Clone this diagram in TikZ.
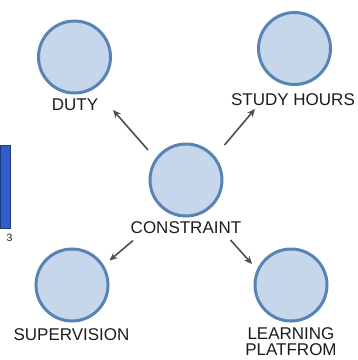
\documentclass[tikz,border=0pt]{standalone}
\usepackage{fontspec}
\setmainfont{Liberation Sans}
\usetikzlibrary{arrows.meta}
\definecolor{bubblefill}{HTML}{C6D6EB}
\definecolor{bubbleline}{HTML}{5783B5}
\definecolor{arrowgray}{HTML}{4A5152}
\definecolor{labelink}{HTML}{1C1C1C}
\definecolor{barblue}{HTML}{2F5DCB}
\definecolor{barline}{HTML}{1E3A7A}
\begin{document}
\begin{tikzpicture}[x=1pt,y=-1pt,
  bubble/.style={circle,draw=bubbleline,fill=bubblefill,line width=3pt,minimum size=72pt,inner sep=0pt},
  caption/.style={text=labelink,font=\fontsize{17}{16}\selectfont,inner sep=0pt,align=center},
  arr/.style={draw=arrowgray,line width=1.6pt,-{Stealth[length=8pt,width=7pt]}}]
  \useasboundingbox (0,0) rectangle (358,360);
  % side bar and its tick label
  \path[fill=barblue,draw=barline,line width=0.8pt] (0,145) rectangle (10.5,228);
  \node[text=labelink,font=\fontsize{10.5}{11}\selectfont,inner sep=0pt] (tick) at (9.5,238) {3};
  % concept bubbles
  \node[bubble] (c) at (186,180) {};
  \node[bubble] (duty) at (74.5,57) {};
  \node[bubble] (study) at (294.5,48.5) {};
  \node[bubble] (sup) at (72,285) {};
  \node[bubble] (learn) at (291,285) {};
  % captions
  \node[caption] (cL) at (186,228) {CONSTRAINT};
  \node[caption] (dutyL) at (75,105) {DUTY};
  \node[caption] (studyL) at (293,99.5) {STUDY HOURS};
  \node[caption] (supL) at (71.5,334.5) {SUPERVISION};
  \node[caption,anchor=north] (learnL) at (291,327) {LEARNING\\PLATFROM};
  % arrow end points
  \coordinate (a1s) at (148,150); \coordinate (a1e) at (113,110);
  \coordinate (a2s) at (224.5,145); \coordinate (a2e) at (255,109);
  \coordinate (a3s) at (133,240.5); \coordinate (a3e) at (109.5,260.5);
  \coordinate (a4s) at (230.5,240); \coordinate (a4e) at (252,264);
  \draw[arr] (a1s) -- (a1e);
  \draw[arr] (a2s) -- (a2e);
  \draw[arr] (a3s) -- (a3e);
  \draw[arr] (a4s) -- (a4e);
\end{tikzpicture}
\end{document}
